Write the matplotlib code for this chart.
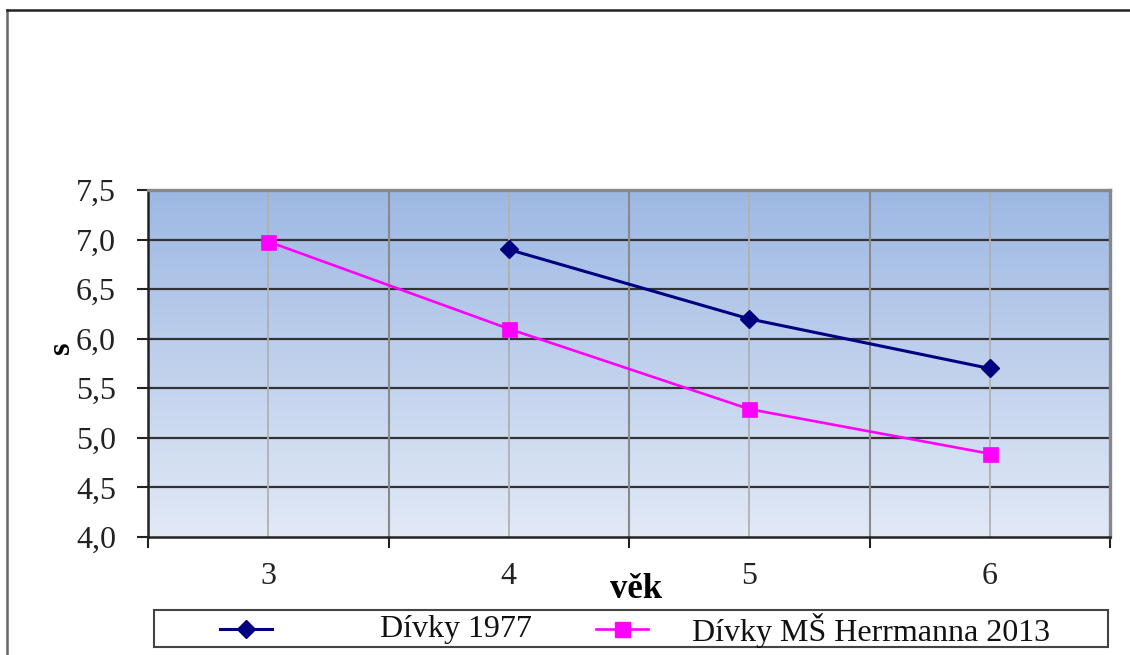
import numpy as np
import matplotlib
matplotlib.use("Agg")
import matplotlib.pyplot as plt
from matplotlib.lines import Line2D
from matplotlib.patches import Rectangle

plt.rcParams['font.family'] = ['Liberation Serif', 'DejaVu Serif']

# Data
ages = [3, 4, 5, 6]
series_1977_ages = [4, 5, 6]
series_1977 = [6.9, 6.2, 5.7]
series_2013_ages = [3, 4, 5, 6]
series_2013 = [6.98, 6.1, 5.29, 4.84]
label_1977 = "Dívky 1977"
label_2013 = "Dívky MŠ Herrmanna 2013"
y_ticks = [4.0, 4.5, 5.0, 5.5, 6.0, 6.5, 7.0, 7.5]

W, H = 1130, 655
fig = plt.figure(figsize=(W / 100, H / 100), dpi=100)

def fx(x):
    return x / W

def fy(y):
    return 1 - y / H

ax = fig.add_axes([fx(148), fy(537), fx(1110) - fx(148), fy(190) - fy(537)])
ax.set_xlim(2.5, 6.5)
ax.set_ylim(4.0, 7.5)

# Vertical gradient background of the plot area
top = np.array([157, 184, 227]) / 255
bot = np.array([226, 233, 246]) / 255
t = np.linspace(0, 1, 256)[:, None]
grad = (top * (1 - t) + bot * t)[:, None, :]
ax.imshow(grad, extent=[2.5, 6.5, 4.0, 7.5], aspect='auto', origin='upper', zorder=0)

# Gridlines
for v in y_ticks[1:-1]:
    ax.axhline(v, color='#333333', lw=1.6, zorder=1)
for a in ages:
    ax.axvline(a, color='#b0b0b0', lw=1.3, zorder=1)
for b in [3.5, 4.5, 5.5]:
    ax.axvline(b, color='#8a8a8a', lw=1.5, zorder=1)

# Series
ax.plot(series_1977_ages, series_1977, color='#000080', lw=2.2, marker='D', ms=9,
        mfc='#000080', mec='#000080', zorder=3)
ax.plot(series_2013_ages, series_2013, color='#ff00ff', lw=1.9, marker='s', ms=10.8,
        mfc='#ff00ff', mec='#ff00ff', mew=0.5, zorder=3)

# Spines
for s in ['left', 'bottom']:
    ax.spines[s].set_color('#222222')
    ax.spines[s].set_linewidth(1.8)
for s in ['top', 'right']:
    ax.spines[s].set_color('#888888')
    ax.spines[s].set_linewidth(2.4)

# Ticks
ax.set_yticks(y_ticks)
ax.set_yticklabels([f"{v:.1f}".replace('.', ',') for v in y_ticks])
ax.tick_params(axis='y', direction='out', length=8, width=1.5, color='#222222',
               labelsize=23, pad=15, labelcolor='#222222')
ax.set_xticks([2.5, 3.5, 4.5, 5.5, 6.5])
ax.set_xticklabels([])
ax.set_xticks(ages, minor=True)
ax.set_xticklabels([str(a) for a in ages], minor=True)
ax.tick_params(axis='x', which='major', direction='out', length=8, width=1.5, color='#222222')
ax.tick_params(axis='x', which='minor', length=0, labelsize=23, pad=18, labelcolor='#222222')

# Axis titles
fig.text(fx(636), fy(590), "věk", ha='center', va='center', fontsize=25, fontweight='bold')
fig.text(fx(61), fy(348), "s", ha='center', va='center', fontsize=23, fontweight='bold',
         rotation=90)

# Outer frame (left and top edges)
fig.add_artist(Line2D([fx(7), fx(7)], [fy(10), 0], transform=fig.transFigure,
                      color='#666666', lw=1.8))
fig.add_artist(Line2D([fx(7), 1], [fy(10), fy(10)], transform=fig.transFigure,
                      color='#222222', lw=1.8))

# Legend box
fig.add_artist(Rectangle((fx(154), fy(647)), fx(1108) - fx(154), fy(610) - fy(647),
                         transform=fig.transFigure, fill=False, edgecolor='#444444', lw=1.5))
ly = fy(628.5)
fig.add_artist(Line2D([fx(220), fx(272)], [ly, ly], transform=fig.transFigure,
                      color='#000080', lw=2.2, marker=None))
fig.add_artist(Line2D([fx(245.5)], [ly], transform=fig.transFigure, color='#000080',
                      marker='D', ms=9, mfc='#000080', mec='#000080', lw=0))
fig.text(fx(380), fy(630), label_1977, ha='left', va='center', fontsize=23, color='#111111')
fig.add_artist(Line2D([fx(596), fx(648)], [ly, ly], transform=fig.transFigure,
                      color='#ff00ff', lw=1.9))
fig.add_artist(Line2D([fx(622)], [ly], transform=fig.transFigure, color='#ff00ff',
                      marker='s', ms=10.8, mfc='#ff00ff', mec='#ff00ff', lw=0))
fig.text(fx(692), fy(630), label_2013, ha='left', va='center', fontsize=23, color='#111111')

fig.savefig("out.png", dpi=100)
